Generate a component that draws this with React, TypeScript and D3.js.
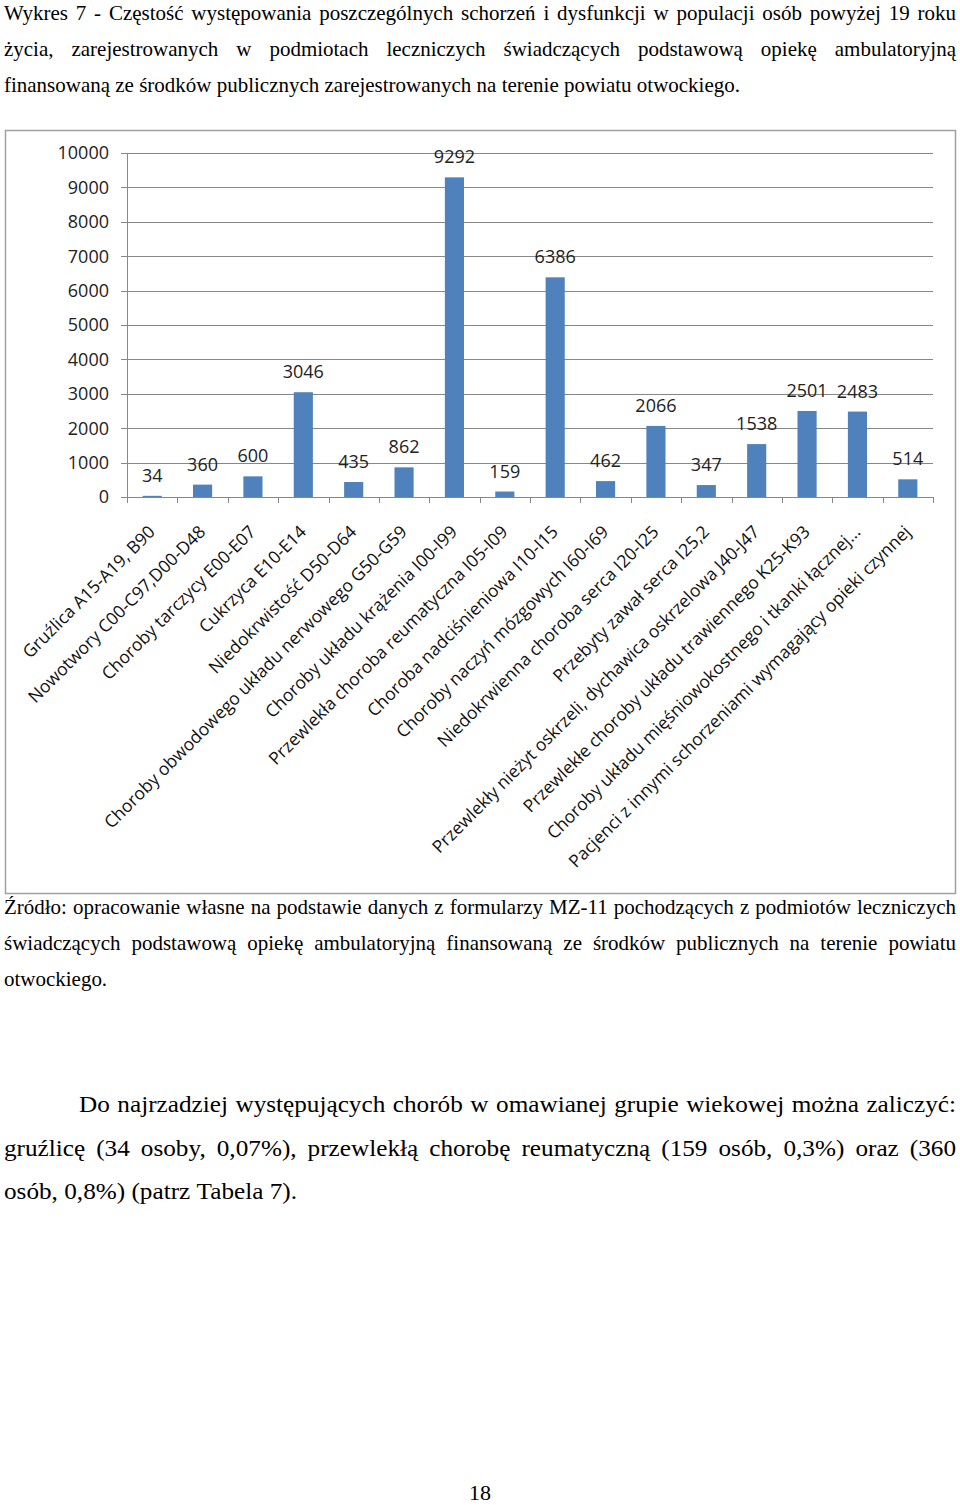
import React from 'react';
import * as d3 from 'd3';

const categories = [
  'Gruźlica A15-A19, B90',
  'Nowotwory C00-C97,D00-D48',
  'Choroby tarczycy E00-E07',
  'Cukrzyca E10-E14',
  'Niedokrwistość D50-D64',
  'Choroby obwodowego układu nerwowego G50-G59',
  'Choroby układu krążenia I00-I99',
  'Przewlekła choroba reumatyczna I05-I09',
  'Choroba nadciśnieniowa I10-I15',
  'Choroby naczyń mózgowych I60-I69',
  'Niedokrwienna choroba serca I20-I25',
  'Przebyty zawał serca I25,2',
  'Przewlekły nieżyt oskrzeli, dychawica oskrzelowa J40-J47',
  'Przewlekłe choroby układu trawiennego K25-K93',
  'Choroby układu mięśniowokostnego i tkanki łącznej...',
  'Pacjenci z innymi schorzeniami wymagający opieki czynnej',
];
const values = [34, 360, 600, 3046, 435, 862, 9292, 159, 6386, 462, 2066, 347, 1538, 2501, 2483, 514];
const yTickValues = [0, 1000, 2000, 3000, 4000, 5000, 6000, 7000, 8000, 9000, 10000];

const titleLines = [
  'Wykres 7 - Częstość występowania poszczególnych schorzeń i dysfunkcji w populacji osób powyżej 19 roku',
  'życia, zarejestrowanych w podmiotach leczniczych świadczących podstawową opiekę ambulatoryjną',
  'finansowaną ze środków publicznych zarejestrowanych na terenie powiatu otwockiego.',
];
const sourceLines = [
  'Źródło: opracowanie własne na podstawie danych z formularzy MZ-11 pochodzących z podmiotów leczniczych',
  'świadczących podstawową opiekę ambulatoryjną finansowaną ze środków publicznych na terenie powiatu',
  'otwockiego.',
];
const paragraphLines = [
  'Do najrzadziej występujących chorób w omawianej grupie wiekowej można zaliczyć:',
  'gruźlicę (34 osoby, 0,07%), przewlekłą chorobę reumatyczną (159 osób, 0,3%) oraz (360',
  'osób, 0,8%) (patrz Tabela 7).',
];
const pageNumber = '18';

const SERIF = '"Liberation Serif", "Times New Roman", serif';
const SANS = '"Open Sans", "Noto Sans", sans-serif';

let ctx: CanvasRenderingContext2D | null = null;
function measure(text: string, size: number): number {
  if (!ctx) ctx = document.createElement('canvas').getContext('2d');
  ctx!.font = `${size}px ${SERIF}`;
  return ctx!.measureText(text).width;
}

function TextLine({ text, x0, x1, y, size, sx, justify }: any) {
  const words = text.split(/ +/);
  const widths = words.map((w: string) => measure(w, size) * sx);
  const total = d3.sum(widths);
  const gap = justify && words.length > 1 ? (x1 - x0 - total) / (words.length - 1) : measure(' ', size) * sx;
  let x = x0;
  return (
    <g>
      {words.map((w: string, i: number) => {
        const pos = x;
        x += widths[i] + gap;
        return (
          <text key={i} transform={`translate(${pos},${y}) scale(${sx},1)`} fontFamily={SERIF} fontSize={size} fill="#000">
            {w}
          </text>
        );
      })}
    </g>
  );
}

function Block({ lines, x0, firstX0, x1, baselines, size, sx }: any) {
  return (
    <g>
      {lines.map((l: string, i: number) => (
        <TextLine key={i} text={l} x0={i === 0 ? firstX0 : x0} x1={x1} y={baselines[i]} size={size} sx={sx} justify={i < lines.length - 1} />
      ))}
    </g>
  );
}

export default function App() {
  const left = 127, right = 933, y0 = 497, y1 = 153;
  const x = d3.scaleBand<string>().domain(categories).range([left, right]).paddingInner(0).paddingOuter(0);
  const y = d3.scaleLinear().domain([0, 10000]).range([y0, y1]);
  const barW = x.bandwidth() * 0.38;

  const titleSize = 21;
  const lastTitle = titleLines[titleLines.length - 1];
  const sxTitle = 736 / measure(lastTitle, titleSize);
  const paraSize = 24;
  const lastPara = paragraphLines[paragraphLines.length - 1];
  const sxPara = 293 / measure(lastPara, paraSize);

  const boundaries = d3.range(categories.length + 1).map((i) => left + i * x.step());

  return (
    <svg width={960} height={1505} style={{ position: 'absolute', left: 0, top: 0, background: '#fff' }}>
      <rect x={0} y={0} width={960} height={1505} fill="#fff" />
      <Block lines={titleLines} x0={4} firstX0={4} x1={956} baselines={[20, 56, 92]} size={titleSize} sx={sxTitle} />

      {/* chart frame */}
      <rect x={5.5} y={130.5} width={950} height={763} fill="#fff" stroke="#a0a0a0" strokeWidth={1.5} />

      {/* gridlines and y ticks */}
      {yTickValues.map((t) => (
        <g key={t}>
          <line x1={left - 6} x2={right} y1={Math.round(y(t)) + 0.5} y2={Math.round(y(t)) + 0.5} stroke="#878787" strokeWidth={1} />
          <text x={109} y={y(t)} dy="0.35em" textAnchor="end" fontFamily={SANS} fontSize={18} fill="#222">
            {t}
          </text>
        </g>
      ))}
      <line x1={left + 0.5} x2={left + 0.5} y1={y1} y2={y0} stroke="#878787" strokeWidth={1} />
      {boundaries.map((b, i) => (
        <line key={i} x1={Math.round(b) + 0.5} x2={Math.round(b) + 0.5} y1={y0} y2={y0 + 6} stroke="#878787" strokeWidth={1} />
      ))}

      {/* bars */}
      {categories.map((c, i) => {
        const cx = x(c)! + x.bandwidth() / 2;
        return (
          <g key={c}>
            <rect x={cx - barW / 2} y={y(values[i])} width={barW} height={y0 - y(values[i])} fill="#4f81bd" />
            <text x={cx} y={y(values[i]) - 14} textAnchor="middle" fontFamily={SANS} fontSize={18} fill="#222">
              {values[i]}
            </text>
            <text
              transform={`translate(${cx + 4},${533}) rotate(-45)`}
              textAnchor="end"
              fontFamily={SANS}
              fontSize={17.5}
              fill="#111"
            >
              {c}
            </text>
          </g>
        );
      })}

      <Block lines={sourceLines} x0={4} firstX0={4} x1={956} baselines={[914, 950, 986]} size={titleSize} sx={sxTitle} />
      <Block lines={paragraphLines} x0={4} firstX0={79} x1={956} baselines={[1112, 1156, 1199]} size={paraSize} sx={sxPara} />
      <text x={480} y={1500} textAnchor="middle" fontFamily={SERIF} fontSize={22} fill="#000">
        {pageNumber}
      </text>
    </svg>
  );
}
